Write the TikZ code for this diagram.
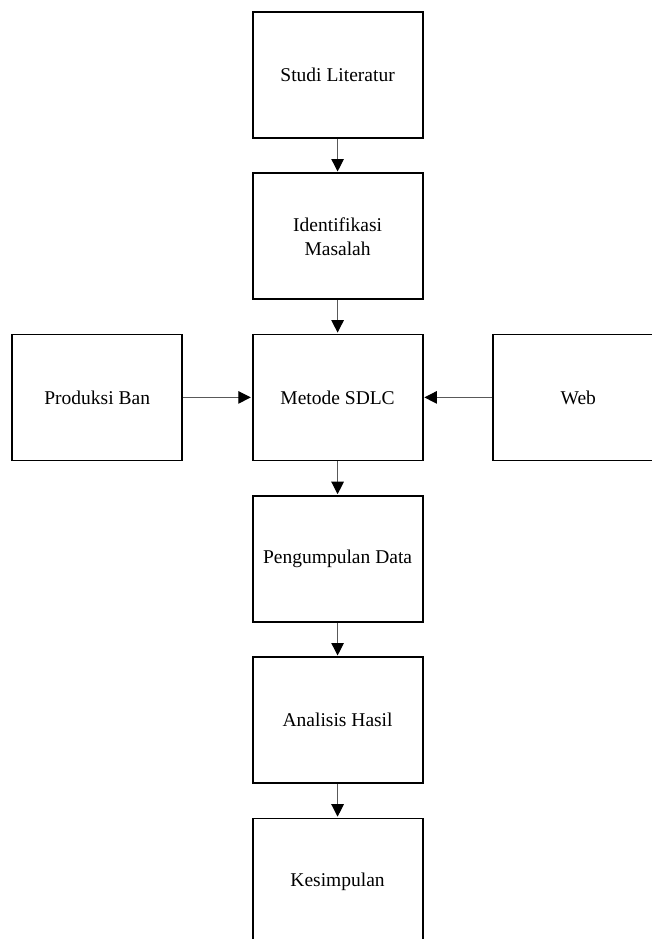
\documentclass[tikz,border=0pt]{standalone}
\usepackage{fontspec}
\setmainfont{Liberation Serif}
\usetikzlibrary{arrows.meta}
\tikzset{
  stepbox/.style={draw=black, line width=1.8pt, fill=white, minimum width=170pt, minimum height=126pt, inner sep=0pt, align=center, font=\fontsize{19.5}{24}\selectfont},
  conn/.style={draw=black!65, line width=1.1pt, -{Triangle[width=12.5pt,length=12.5pt,color=black,fill=black]}, shorten >=0.9pt}
}
\begin{document}
\begin{tikzpicture}[x=1pt,y=-1pt]
\useasboundingbox[fill=white] (0,0) rectangle (652,939);
\node[stepbox] (studi) at (337.6,75) {Studi Literatur};
\node[stepbox] (ident) at (337.6,236.3) {Identifikasi\\Masalah};
\node[stepbox] (metode) at (337.6,397.4) {Metode SDLC};
\node[stepbox] (data) at (337.6,559) {Pengumpulan Data};
\node[stepbox] (analisis) at (337.6,720.3) {Analisis Hasil};
\node[stepbox] (kesim) at (337.6,881.5) {Kesimpulan};
\node[stepbox] (ban) at (97.2,397.4) {Produksi Ban};
\node[stepbox] (web) at (578.3,397.4) {Web};
\draw[conn] (studi) -- (ident);
\draw[conn] (ident) -- (metode);
\draw[conn] (metode) -- (data);
\draw[conn] (data) -- (analisis);
\draw[conn] (analisis) -- (kesim);
\draw[conn] (ban) -- (metode);
\draw[conn] (web) -- (metode);
\end{tikzpicture}
\end{document}
